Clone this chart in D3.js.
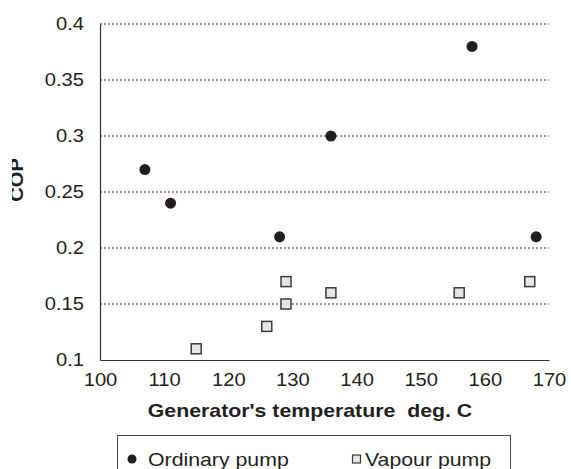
<!DOCTYPE html>
<html>
<head>
<meta charset="utf-8">
<script src="https://cdn.jsdelivr.net/npm/d3@7"></script>
<style>
  body { margin: 0; background: #fff; }
  text { font-family: "Liberation Sans", Arial, sans-serif; fill: #231f20; white-space: pre; }
</style>
</head>
<body>
<svg id="chart" width="571" height="469"></svg>
<script>
// ordinary pump (filled circles)
var ordinaryTemp = [107, 111, 128, 136, 158, 168];
var ordinaryCop  = [0.27, 0.24, 0.21, 0.30, 0.38, 0.21];
// vapour pump (grey squares)
var vapourTemp = [115, 126, 129, 129, 136, 156, 167];
var vapourCop  = [0.11, 0.13, 0.17, 0.15, 0.16, 0.16, 0.17];

var xTicks = [100, 110, 120, 130, 140, 150, 160, 170];
var yTicks = [0.1, 0.15, 0.2, 0.25, 0.3, 0.35, 0.4];
var seriesNames = ["Ordinary pump", "Vapour pump"];

var plotL = 100, plotR = 549, plotT = 24, plotB = 360;
var svg = d3.select("#chart");

var x = d3.scaleLinear().domain([100, 170]).range([plotL, plotR]);
var y = d3.scaleLinear().domain([0.1, 0.4]).range([plotB, plotT]);

// dotted gridlines
svg.append("g").selectAll("line").data(yTicks.slice(1)).enter().append("line")
    .attr("x1", plotL).attr("x2", plotR)
    .attr("y1", d => y(d)).attr("y2", d => y(d))
    .style("stroke", "#333").style("stroke-width", 1).style("stroke-dasharray", "2,2");

var xAxis = svg.append("g").attr("transform", "translate(0," + plotB + ")")
    .call(d3.axisBottom(x).tickValues(xTicks).tickSize(0).tickPadding(13).tickFormat(d => d));
var yAxis = svg.append("g").attr("transform", "translate(" + plotL + ",0)")
    .call(d3.axisLeft(y).tickValues(yTicks).tickSize(0).tickPadding(16).tickFormat(d => String(+d.toFixed(2))));
[xAxis, yAxis].forEach(a => {
    a.select(".domain").style("stroke", "#333").style("stroke-width", 1.2);
    a.selectAll("text").style("font-size", "18px").style("fill", "#231f20");
});

// points
svg.append("g").selectAll("rect").data(vapourTemp).enter().append("rect")
    .attr("x", (d, i) => x(d) - 5).attr("y", (d, i) => y(vapourCop[i]) - 5)
    .attr("width", 10).attr("height", 10)
    .style("fill", "#e6e6e6").style("stroke", "#3a3a3a").style("stroke-width", 1.5);
svg.append("g").selectAll("circle").data(ordinaryTemp).enter().append("circle")
    .attr("cx", d => x(d)).attr("cy", (d, i) => y(ordinaryCop[i])).attr("r", 5.5)
    .style("fill", "#231f20");

// axis titles
svg.append("text").attr("x", 310).attr("y", 417).attr("text-anchor", "middle")
    .style("font-size", "19px").style("font-weight", "bold")
    .text("Generator's temperature  deg. C");

svg.append("clipPath").attr("id", "cut").append("rect")
    .attr("x", 12).attr("y", 0).attr("width", 100).attr("height", 469);
svg.append("g").attr("clip-path", "url(#cut)").append("text")
    .attr("transform", "translate(23,180) rotate(-90)").attr("text-anchor", "middle")
    .style("font-size", "18px").style("font-weight", "bold").text("COP");

// legend
var lg = svg.append("g");
lg.append("rect").attr("x", 117.5).attr("y", 435.5).attr("width", 393).attr("height", 40)
    .style("fill", "none").style("stroke", "#444").style("stroke-width", 1);
lg.append("circle").attr("cx", 132).attr("cy", 459).attr("r", 4.5).style("fill", "#231f20");
lg.append("rect").attr("x", 352.5).attr("y", 455).attr("width", 8).attr("height", 8)
    .style("fill", "#e6e6e6").style("stroke", "#3a3a3a").style("stroke-width", 1.2);
lg.append("text").attr("x", 148).attr("y", 466).style("font-size", "19px").text(seriesNames[0]);
lg.append("text").attr("x", 365).attr("y", 466).style("font-size", "19px").text(seriesNames[1]);

// the reference text is a bit wider than Arial, stretch it horizontally
svg.selectAll("text").each(function() {
    var len = this.getComputedTextLength();
    d3.select(this).attr("textLength", len * 1.12).attr("lengthAdjust", "spacingAndGlyphs");
});
</script>
</body>
</html>
